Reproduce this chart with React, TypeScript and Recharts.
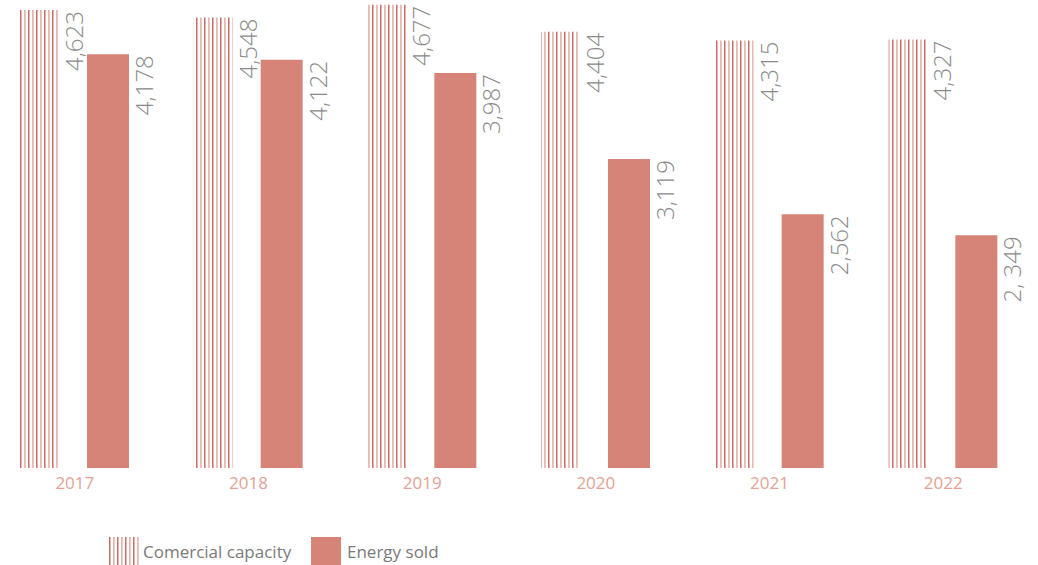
import { BarChart, Bar, XAxis, YAxis, LabelList } from "recharts"

const years = ["2017", "2018", "2019", "2020", "2021", "2022"]
const capacity = [4623, 4548, 4677, 4404, 4315, 4327]
const energySold = [4178, 4122, 3987, 3119, 2562, 2349]
const capacityLabels = ["4,623", "4,548", "4,677", "4,404", "4,315", "4,327"]
const soldLabels = ["4,178", "4,122", "3,987", "3,119", "2,562", "2, 349"]

const data = years.map((year, i) => ({
  year,
  capacity: capacity[i],
  sold: energySold[i],
}))

const SOLID = "#d58477"
const TEXT_GREY = "#8a8a8a"
const FONT = "'Open Sans', 'Noto Sans', sans-serif"

// vertical value label sitting to the right of the bar, ending at its top
const sideLabel = (labels: string[]) => (props: any) => {
  const { x, y, width, index } = props
  const tx = Number(x) + Number(width) + 24
  const ty = Number(y) + 1
  return (
    <text
      x={tx}
      y={ty}
      transform={`rotate(-90, ${tx}, ${ty})`}
      textAnchor="end"
      fill={TEXT_GREY}
      fontSize={24}
      fontWeight={300}
      fontFamily={FONT}
    >
      {labels[index]}
    </text>
  )
}

function StripeDefs() {
  return (
    <defs>
      <pattern id="stripes" width="8" height="10" patternUnits="userSpaceOnUse">
        <rect x="0" y="0" width="8" height="10" fill="#ffffff" />
        <rect x="0" y="0" width="1.5" height="10" fill="#c66e66" />
        <rect x="4" y="0" width="1.8" height="10" fill="#e6bab2" />
      </pattern>
    </defs>
  )
}

function Legend() {
  return (
    <div
      style={{
        position: "absolute",
        left: 109,
        top: 537,
        display: "flex",
        alignItems: "center",
        fontFamily: FONT,
        fontSize: 17,
        color: "#7a7a7a",
      }}
    >
      <svg width={31} height={28} style={{ marginRight: 3 }}>
        <StripeDefs />
        <rect x={0} y={0} width={31} height={28} fill="url(#stripes)" />
      </svg>
      <span style={{ width: 168 }}>Comercial capacity</span>
      <div style={{ width: 30, height: 28, background: SOLID, marginRight: 6 }} />
      <span>Energy sold</span>
    </div>
  )
}

export default function App() {
  return (
    <div
      style={{
        position: "fixed",
        left: 0,
        top: 0,
        width: 1038,
        height: 565,
        overflow: "hidden",
        background: "#ffffff",
      }}
    >
      <div style={{ position: "absolute", left: -12, top: 0 }}>
        <BarChart
          width={1042}
          height={565}
          data={data}
          margin={{ top: 0, right: 0, bottom: 67, left: 0 }}
          barGap={28}
        >
          <StripeDefs />
          <XAxis
            dataKey="year"
            axisLine={false}
            tickLine={false}
            height={30}
            tick={{ fill: "#e2a296", fontSize: 17, fontFamily: FONT, dy: 1 }}
          />
          <YAxis hide domain={[0, 4725]} />
          <Bar dataKey="capacity" barSize={39} fill="url(#stripes)" isAnimationActive={false}>
            <LabelList dataKey="capacity" content={sideLabel(capacityLabels)} />
          </Bar>
          <Bar dataKey="sold" barSize={42} fill={SOLID} isAnimationActive={false}>
            <LabelList dataKey="sold" content={sideLabel(soldLabels)} />
          </Bar>
        </BarChart>
      </div>
      <Legend />
    </div>
  )
}
